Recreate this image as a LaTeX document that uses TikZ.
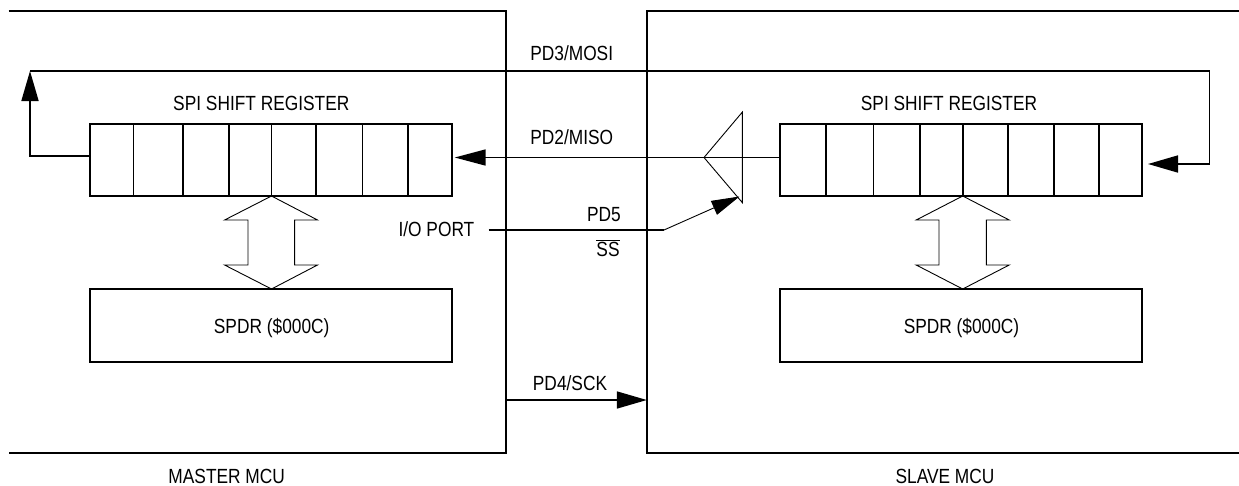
\documentclass[tikz,border=0pt]{standalone}
\usepackage{fontspec}
\setmainfont{Liberation Sans}[FakeStretch=0.845]
\usetikzlibrary{arrows.meta}
\begin{document}
\begin{tikzpicture}[x=1pt,y=-1pt,
  thick line/.style={line width=1.7pt},
  thin line/.style={line width=0.9pt},
  txt/.style={font=\fontsize{20.5}{23}\selectfont},
  reg/.style={draw, line width=1.7pt, minimum width=362pt, minimum height=72pt, inner sep=0pt, outer sep=0pt, txt},
  lbl/.style={inner sep=0pt, anchor=base, txt},
  tip/.style={-{Triangle[length=30pt,width=17pt]}},
  tipb/.style={-{Triangle[length=31pt,width=16pt]}},
  tipc/.style={-{Triangle[length=28pt,width=15pt]}},
  ]
\useasboundingbox (0,0) rectangle (1239,485);

% MCU outlines
\draw[thick line] (8.7,10.7) -- (505.8,10.7) -- (505.8,452.7) -- (8.7,452.7);
\draw[thick line] (1240,10.7) -- (646.8,10.7) -- (646.8,452.7) -- (1240,452.7);
\node[lbl] (mname) at (226.7,483) {MASTER MCU};
\node[lbl] (sname) at (945,483) {SLAVE MCU};

% shift registers
\node[reg] (mreg) at (271.1,160) {};
\node[reg] (sreg) at (961.3,160) {};
\foreach \x in {133.6,182.7,228.8,271.5,316,362.5,408}
  \draw[thick line] (\x,124) -- (\x,196);
\foreach \x in {826,873.5,920,962.7,1008,1054,1099}
  \draw[thick line] (\x,124) -- (\x,196);
\node[lbl] (mregt) at (261.3,110) {SPI SHIFT REGISTER};
\node[lbl] (sregt) at (949,110) {SPI SHIFT REGISTER};

% SPDR
\node[reg, minimum height=73pt] (mspdr) at (271.1,325.5) {};
\node[reg, minimum height=73pt] (sspdr) at (961.3,325.5) {};
\node[lbl] (mspdrt) at (271.7,333) {SPDR (\$000C)};
\node[lbl] (sspdrt) at (961.5,333) {SPDR (\$000C)};

% double arrows
\draw[thin line] (271.5,196) -- (317.5,220) -- (294.6,220) -- (294.6,265) -- (317.5,265) -- (271.5,289)
  -- (224.6,265) -- (248,265) -- (248,220) -- (224.6,220) -- cycle;
\draw[thin line] (962.7,196) -- (1009.2,220) -- (986.4,220) -- (986.4,265) -- (1009.2,265) -- (962.7,289)
  -- (916.2,265) -- (939,265) -- (939,220) -- (916.2,220) -- cycle;

% MOSI
\coordinate (mout) at (90.1,156);
\coordinate (mup) at (30,71);
\coordinate (sin) at (1148,164);
\draw[thick line, tip] (mout) -- (30,156) -- (mup);
\draw[thick line, tip] (mup) -- (1209.4,71) -- (1209.4,164) -- (sin);
\node[lbl] (mosi) at (571.7,60) {PD3/MOSI};

% MISO
\coordinate (sout) at (780.3,157.5);
\coordinate (min) at (454.7,157.5);
\draw[thick line, tipb] (sout) -- (min);
\draw[thin line] (742.4,112) coordinate (bufT) -- (742.4,202.7) coordinate (bufB) -- (704,157.5) coordinate (bufTip) -- cycle;
\node[lbl] (miso) at (571.7,144) {PD2/MISO};

% SS
\node[lbl, anchor=base east] (io) at (474.5,236.7) {I/O PORT};
\coordinate (ssL) at (488.7,230);
\coordinate (ssK) at (664,230);
\coordinate (ssT) at (739.5,196.5);
\draw[thick line] (ssL) -- (ssK);
\draw[thin line, tipc] (ssK) -- (ssT);
\node[lbl] (pd5) at (604,221.7) {PD5};
\node[lbl] (ss) at (608,256) {$\overline{\mbox{SS}}$};

% SCK
\coordinate (sckL) at (505.8,400);
\coordinate (sckR) at (646.8,400);
\draw[thick line, tip] (sckL) -- (sckR);
\node[lbl] (sck) at (570,390.7) {PD4/SCK};
\end{tikzpicture}
\end{document}
